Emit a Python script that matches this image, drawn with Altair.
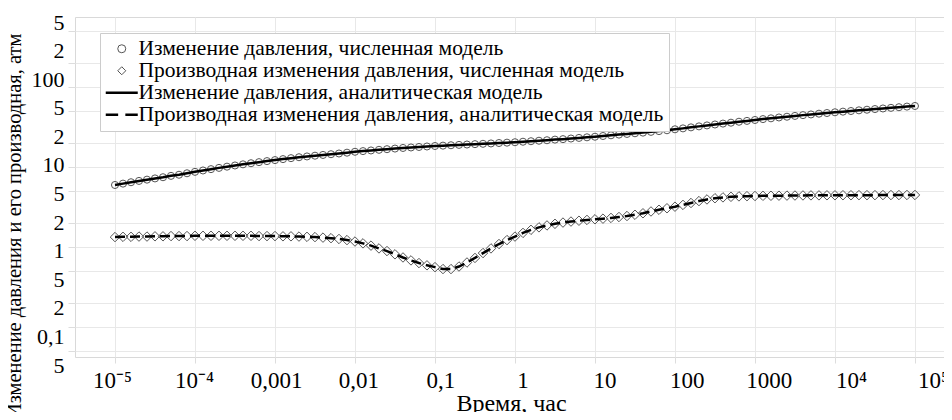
import json
import altair as alt
import pandas as pd

# ---- data (time in hours, log10) ----
log_time = [
    -5.0, -4.9, -4.8, -4.7, -4.6, -4.5, -4.4, -4.3, -4.2, -4.1,
    -4.0, -3.9, -3.8, -3.7, -3.6, -3.5, -3.4, -3.3, -3.2, -3.1,
    -3.0, -2.9, -2.8, -2.7, -2.6, -2.5, -2.4, -2.3, -2.2, -2.1,
    -2.0, -1.9, -1.8, -1.7, -1.6, -1.5, -1.4, -1.3, -1.2, -1.1,
    -1.0, -0.9, -0.8, -0.7, -0.6, -0.5, -0.4, -0.3, -0.2, -0.1,
    0.0, 0.1, 0.2, 0.3, 0.4, 0.5, 0.6, 0.7, 0.8, 0.9,
    1.0, 1.1, 1.2, 1.3, 1.4, 1.5, 1.6, 1.7, 1.8, 1.9,
    2.0, 2.1, 2.2, 2.3, 2.4, 2.5, 2.6, 2.7, 2.8, 2.9,
    3.0, 3.1, 3.2, 3.3, 3.4, 3.5, 3.6, 3.7, 3.8, 3.9,
    4.0, 4.1, 4.2, 4.3, 4.4, 4.5, 4.6, 4.7, 4.8, 4.9,
    5.0,
]

pressure_numeric = [
    5.96, 6.20, 6.45, 6.70, 6.95, 7.20, 7.45, 7.75, 8.00, 8.35,
    8.70, 9.05, 9.40, 9.75, 10.1, 10.45, 10.8, 11.15, 11.5, 11.85,
    12.2, 12.55, 12.9, 13.25, 13.55, 13.85, 14.15, 14.45, 14.75, 15.1,
    15.5, 15.8, 16.1, 16.4, 16.7, 17.0, 17.3, 17.55, 17.8, 18.05,
    18.3, 18.5, 18.7, 18.9, 19.1, 19.3, 19.5, 19.7, 19.95, 20.15,
    20.4, 20.7, 21.0, 21.3, 21.6, 22.0, 22.3, 22.7, 23.1, 23.5,
    23.9, 24.4, 24.9, 25.4, 25.9, 26.4, 26.9, 27.5, 28.1, 28.8,
    29.6, 30.4, 31.3, 32.2, 33.1, 34.0, 34.9, 35.8, 36.8, 37.7,
    38.7, 39.7, 40.6, 41.6, 42.5, 43.5, 44.5, 45.4, 46.4, 47.3,
    48.3, 49.2, 50.1, 51.1, 52.0, 53.0, 53.9, 54.9, 55.9, 56.9,
    57.9,
]

derivative_numeric = [
    1.33, 1.34, 1.34, 1.35, 1.35, 1.36, 1.36, 1.37, 1.37, 1.37,
    1.38, 1.38, 1.38, 1.38, 1.38, 1.38, 1.38, 1.38, 1.37, 1.37,
    1.37, 1.36, 1.36, 1.35, 1.34, 1.33, 1.31, 1.29, 1.26, 1.22,
    1.17, 1.11, 1.04, 0.96, 0.89, 0.81, 0.74, 0.68, 0.63, 0.59,
    0.56, 0.53, 0.53, 0.57, 0.64, 0.73, 0.84, 0.96, 1.09, 1.22,
    1.35, 1.50, 1.64, 1.76, 1.86, 1.95, 2.02, 2.08, 2.13, 2.18,
    2.22, 2.26, 2.31, 2.37, 2.44, 2.53, 2.64, 2.78, 2.92, 3.05,
    3.19, 3.36, 3.55, 3.75, 3.93, 4.07, 4.17, 4.24, 4.29, 4.32,
    4.34, 4.36, 4.37, 4.38, 4.39, 4.40, 4.41, 4.42, 4.42, 4.43,
    4.43, 4.44, 4.44, 4.45, 4.45, 4.45, 4.46, 4.46, 4.46, 4.47,
    4.47,
]

# analytic curves coincide with the numeric ones in the picture
pressure_analytic = list(pressure_numeric)
derivative_analytic = list(derivative_numeric)

series_names = [
    "Изменение давления, численная модель",
    "Производная изменения давления, численная модель",
    "Изменение давления, аналитическая модель",
    "Производная изменения давления, аналитическая модель",
]

x_tick_values = [1e-5, 1e-4, 1e-3, 1e-2, 1e-1, 1, 10, 100, 1000, 1e4, 1e5]
x_tick_labels = ["10⁻⁵", "10⁻⁴", "0,001", "0,01", "0,1", "1", "10", "100", "1000", "10⁴", "10⁵"]

y_tick_values = [0.05, 0.1, 0.2, 0.5, 1, 2, 5, 10, 20, 50, 100, 200, 500]
y_tick_labels = ["5", "0,1", "2", "5", "1", "2", "5", "10", "2", "5", "100", "2", "5"]

x_title = "Время, час"
y_title = "Изменение давления и его производная, атм"

# ---- build table ----
rows = []
for vals, name in zip(
    [pressure_numeric, derivative_numeric, pressure_analytic, derivative_analytic],
    series_names,
):
    for lt, v in zip(log_time, vals):
        rows.append({"t": 10 ** lt, "v": v, "series": name})
df = pd.DataFrame(rows)

FONT = "Liberation Serif"

x_label_expr = f"{json.dumps(x_tick_labels, ensure_ascii=False)}[round(log(datum.value)/LN10)+5]"
y_label_expr = (
    f"{json.dumps(y_tick_labels, ensure_ascii=False)}"
    f"[indexof({json.dumps(y_tick_values)}, datum.value)]"
)

x_enc = alt.X(
    "t:Q",
    scale=alt.Scale(type="log", domain=[3.162e-6, 2.307e5], nice=False),
    axis=alt.Axis(
        values=x_tick_values,
        labelExpr=x_label_expr,
        grid=True,
        gridColor="#e8e8e8",
        tickColor="#dddddd",
        tickSize=6,
        domain=False,
        labelFont=FONT,
        labelFontSize=23,
        labelColor="black",
        labelPadding=6,
        labelFlush=False,
        labelOverlap=False,
        labelOffset={"expr": "37 + datum.index * 821 - scale('x', datum.value)"},
        title=x_title,
        titleFont=FONT,
        titleFontSize=24,
        titleFontWeight="normal",
        titleColor="black",
        titleX=436,
        titleY=53,
        titleBaseline="alphabetic",
    ),
)

y_enc = alt.Y(
    "v:Q",
    scale=alt.Scale(type="log", domain=[0.04217, 749.9], nice=False),
    axis=alt.Axis(
        values=y_tick_values,
        labelExpr=y_label_expr,
        grid=True,
        gridColor="#e8e8e8",
        tickColor="#dddddd",
        tickSize=7,
        domain=False,
        labelFont=FONT,
        labelFontSize=22,
        labelColor="black",
        labelPadding=4,
        labelBaseline="middle",
        labelOverlap=False,
        labelOffset={"expr": "5 + (1 - datum.index) * 343 - scale('y', datum.value)"},
        title=y_title,
        titleFont=FONT,
        titleFontSize=20.5,
        titleFontWeight="normal",
        titleColor="black",
        titleAngle=270,
        titleAlign="right",
        titleBaseline="alphabetic",
        titleX=-55,
        titleY=16,
    ),
)

line_names = json.dumps(series_names[2:], ensure_ascii=False)
is_line = f"indexof({line_names}, datum.value) >= 0"
legend = alt.Legend(
    title=None,
    orient="none",
    legendX=25,
    legendY=16,
    padding=5,
    symbolOffset=6,
    symbolSize=64,
    labelFont=FONT,
    labelFontSize=21.5,
    labelColor="black",
    labelLimit=2000,
    labelOffset=6,
    rowPadding=-4,
    gridAlign="all",
    strokeColor="#cccccc",
    fillColor="white",
    symbolFillColor="transparent",
    symbolStrokeColor={"expr": f"{is_line} ? 'black' : '#555555'"},
    symbolStrokeWidth={"expr": f"{is_line} ? 2.5 : 1"},
)

shape_enc = alt.Shape(
    "series:N",
    scale=alt.Scale(
        domain=series_names,
        range=["circle", "diamond", "M-4,0H4", "M-4,0H-0.9M0.9,0H4"],
    ),
    legend=legend,
)

base = alt.Chart(df)

circles = base.transform_filter(alt.datum.series == series_names[0]).mark_point(
    filled=False, size=50, strokeWidth=1, color="#555555", opacity=1
).encode(x=x_enc, y=y_enc, shape=shape_enc)

diamonds = base.transform_filter(alt.datum.series == series_names[1]).mark_point(
    filled=False, size=90, strokeWidth=1, color="#555555", opacity=1
).encode(x=x_enc, y=y_enc, shape=shape_enc)

solid = base.transform_filter(alt.datum.series == series_names[2]).mark_line(
    color="black", strokeWidth=2.5
).encode(x=x_enc, y=y_enc)

dashed = base.transform_filter(alt.datum.series == series_names[3]).mark_line(
    color="black", strokeWidth=2.5, strokeDash=[10, 5]
).encode(x=x_enc, y=y_enc)

chart = (
    alt.layer(circles, diamonds, solid, dashed)
    .properties(
        width=869,
        height=340,
        autosize=alt.AutoSizeParams(type="none"),
        padding={"left": 67, "top": 9, "right": 0, "bottom": 55},
        background="white",
    )
    .configure_view(stroke="#d9d9d9")
)

chart.save("out.html", embed_options={"renderer": "svg", "actions": False})
